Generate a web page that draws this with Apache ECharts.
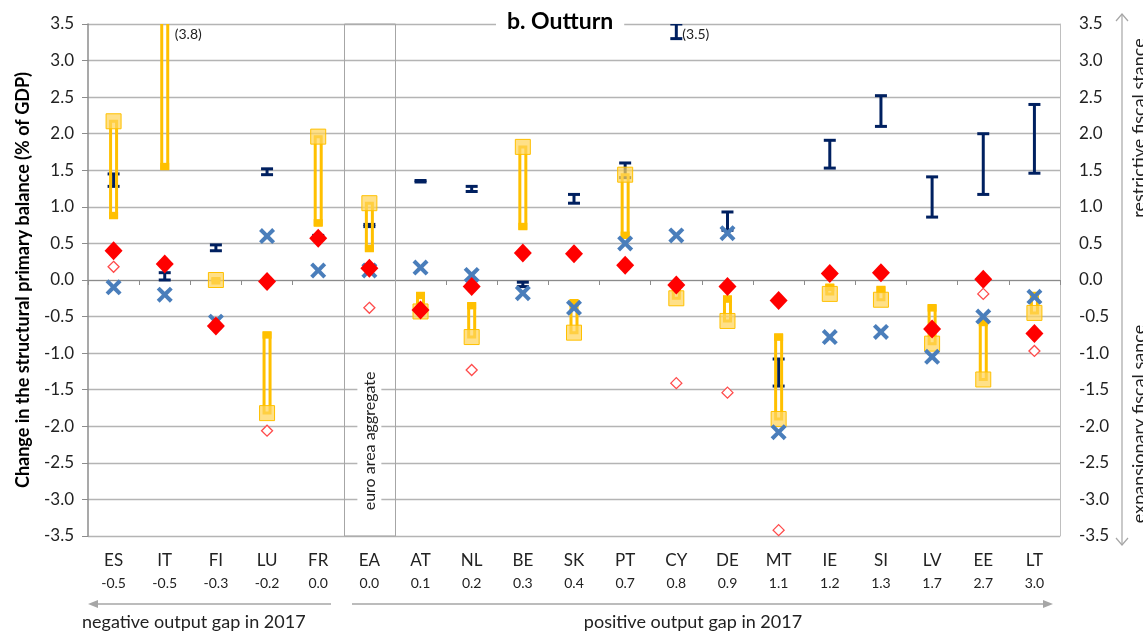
<!DOCTYPE html>
<html>
<head>
<meta charset="utf-8">
<script src="https://cdn.jsdelivr.net/npm/echarts@6/dist/echarts.min.js"></script>
<style>
html, body { margin: 0; padding: 0; background: #ffffff; }
#chart { width: 1143px; height: 633px; }
</style>
</head>
<body>
<div id="chart"></div>
<script>
// categories and output gaps (second label row)
var countries = ['ES', 'IT', 'FI', 'LU', 'FR', 'EA', 'AT', 'NL', 'BE', 'SK', 'PT', 'CY', 'DE', 'MT', 'IE', 'SI', 'LV', 'EE', 'LT'];
var outputGap = [-0.5, -0.5, -0.3, -0.2, 0.0, 0.0, 0.1, 0.2, 0.3, 0.4, 0.7, 0.8, 0.9, 1.1, 1.2, 1.3, 1.7, 2.7, 3.0];

// navy range bars
var navyLow  = [1.28, 0.0, 0.40, 1.44, 0.59, 0.73, 1.34, 1.21, -0.09, 1.05, 1.40, 3.30, 0.68, -1.45, 1.53, 2.10, 0.86, 1.17, 1.46];
var navyHigh = [1.45, 0.1, 0.48, 1.52, 0.61, 0.76, 1.36, 1.28, -0.03, 1.17, 1.60, 3.50, 0.93, -1.08, 1.91, 2.52, 1.41, 2.00, 2.40];

// yellow hollow bars: open end and square end
var yellowEnd    = [0.85, 1.52, 0.02, -0.72, 0.75, 0.40, -0.18, -0.32, 0.70, -0.28, 0.58, -0.10, -0.23, -0.75, -0.07, -0.10, -0.35, -0.55, -0.18];
var yellowSquare = [2.17, 3.80, 0.00, -1.82, 1.96, 1.05, -0.43, -0.78, 1.82, -0.72, 1.44, -0.25, -0.56, -1.90, -0.19, -0.27, -0.87, -1.36, -0.45];

// blue crosses
var blueCross = [-0.10, -0.20, -0.57, 0.60, 0.13, 0.13, 0.17, 0.07, -0.18, -0.38, 0.50, 0.61, 0.64, -2.08, -0.78, -0.71, -1.05, -0.50, -0.23];

// red filled diamonds
var redDiamond = [0.40, 0.22, -0.63, -0.02, 0.57, 0.16, -0.41, -0.09, 0.37, 0.36, 0.20, -0.07, -0.09, -0.28, 0.09, 0.10, -0.67, 0.01, -0.73];

// red open diamonds
var openDiamond = [0.18, null, null, -2.06, null, -0.38, null, -1.23, null, null, null, -1.41, -1.54, -3.42, null, null, null, -0.19, -0.97];

var yMin = -3.5, yMax = 3.5;
var FONT = 'Lato';

var chart = echarts.init(document.getElementById('chart'));

function navyItem(params, api) {
    var i = api.value(0);
    var lo = api.coord([i, api.value(1)]);
    var hi = api.coord([i, api.value(2)]);
    var c = '#002060';
    var kids = [
        { type: 'rect', shape: { x: lo[0] - 1.5, y: hi[1], width: 3, height: lo[1] - hi[1] }, style: { fill: c } },
        { type: 'rect', shape: { x: lo[0] - 6, y: hi[1] - 1.5, width: 12, height: 3 }, style: { fill: c } },
        { type: 'rect', shape: { x: lo[0] - 6, y: lo[1] - 1.5, width: 12, height: 3 }, style: { fill: c } }
    ];
    if (api.value(2) >= yMax) {
        kids.push({ type: 'text', x: lo[0] + 6, y: api.coord([i, yMax])[1] + 10,
            style: { text: '(' + api.value(2).toFixed(1) + ')', fontSize: 14, fontFamily: FONT, fill: '#222', verticalAlign: 'middle' } });
    }
    return { type: 'group', children: kids };
}

function yellowItem(params, api) {
    var i = api.value(0);
    var e = api.value(1), s = api.value(2);
    var pe = api.coord([i, e]);
    var ps = api.coord([i, s]);
    var top = Math.min(pe[1], ps[1]);
    var h = Math.abs(pe[1] - ps[1]);
    var c = '#FFC000';
    var capY = e >= s ? pe[1] - 1 : pe[1] - 6;
    var kids = [
        { type: 'rect', shape: { x: pe[0] - 3, y: top, width: 6, height: h }, style: { fill: null, stroke: c, lineWidth: 3 } },
        { type: 'rect', shape: { x: pe[0] - 4.5, y: capY, width: 9, height: 7 }, style: { fill: c } }
    ];
    if (s > yMax) {
        kids.push({ type: 'text', x: pe[0] + 10, y: api.coord([i, yMax])[1] + 10,
            style: { text: '(' + s.toFixed(1) + ')', fontSize: 14, fontFamily: FONT, fill: '#222', verticalAlign: 'middle' } });
    }
    return { type: 'group', children: kids };
}

var eaIndex = countries.indexOf('EA');
function eaItem(params, api) {
    var i = api.value(0);
    var cx = api.coord([i, 0])[0];
    var w = api.size([1, 0])[0];
    var t = api.coord([i, yMax])[1];
    var b = api.coord([i, yMin])[1];
    return { type: 'group', children: [
        { type: 'rect', shape: { x: Math.round(cx - w / 2) + 0.5, y: t, width: Math.round(w), height: b - t },
          style: { fill: null, stroke: '#a6a6a6', lineWidth: 1 } },
        { type: 'text', x: cx, y: api.coord([i, -2.2])[1], rotation: Math.PI / 2,
          style: { text: 'euro area aggregate', fontSize: 16, fontFamily: FONT, fill: '#222',
                   align: 'center', verticalAlign: 'middle', backgroundColor: '#ffffff', padding: [4, 6] } }
    ] };
}

var xPath = 'path://M2.5,0L7,4.5L11.5,0L14,2.5L9.5,7L14,11.5L11.5,14L7,9.5L2.5,14L0,11.5L4.5,7L0,2.5Z';
var grey = '#a6a6a6';

var option = {
    animation: false,
    textStyle: { fontFamily: FONT },
    title: {
        text: 'b. Outturn', left: 496, top: 8, padding: [2, 11], backgroundColor: '#ffffff',
        textStyle: { fontSize: 23, fontWeight: 'bold', color: '#000', fontFamily: FONT }
    },
    grid: { left: 88, right: 83, top: 24, bottom: 97 },
    xAxis: [
        {
            type: 'category', data: countries, position: 'bottom',
            axisLine: { onZero: true, lineStyle: { color: '#8c8c8c', width: 1 } },
            axisTick: { show: true, length: 5, lineStyle: { color: '#8c8c8c' } },
            axisLabel: { show: false }, splitLine: { show: false }
        },
        {
            type: 'category', data: countries, position: 'bottom',
            axisLine: { show: false, onZero: false }, axisTick: { show: false },
            axisLabel: {
                margin: 13, color: '#222',
                formatter: function (v, idx) { return '{a|' + v + '}\n{b|' + outputGap[idx].toFixed(1) + '}'; },
                rich: { a: { fontSize: 17, lineHeight: 23, fontFamily: FONT, color: '#222' },
                        b: { fontSize: 14, lineHeight: 23, fontFamily: FONT, color: '#222' } }
            }
        }
    ],
    yAxis: [
        {
            type: 'value', min: yMin, max: yMax, interval: 0.5, position: 'left',
            name: 'Change in the structural primary balance (% of GDP)', nameLocation: 'middle', nameGap: 56,
            nameTextStyle: { fontSize: 18, fontWeight: 'bold', color: '#000', fontFamily: FONT },
            axisLine: { show: true, lineStyle: { color: '#8c8c8c', width: 1.5 } },
            axisTick: { show: true, length: 6, lineStyle: { color: '#8c8c8c' } },
            axisLabel: { fontSize: 17, color: '#222', margin: 14, formatter: function (v) { return v.toFixed(1); } },
            splitLine: { lineStyle: { color: '#b4b4b4', width: 1.3 } }
        },
        {
            type: 'value', min: yMin, max: yMax, interval: 0.5, position: 'right',
            axisLine: { show: true, lineStyle: { color: '#bfbfbf', width: 1 } },
            axisTick: { show: false },
            axisLabel: { fontSize: 17, color: '#222', margin: 19, formatter: function (v) { return v.toFixed(1); } },
            splitLine: { show: false }
        }
    ],
    series: [
        { type: 'custom', name: 'ea', xAxisIndex: 0, yAxisIndex: 0, z: 1, renderItem: eaItem,
          data: [[eaIndex]] },
        { type: 'custom', name: 'navy', xAxisIndex: 0, yAxisIndex: 0, z: 2, clip: true, renderItem: navyItem,
          encode: { x: 0, y: [1, 2] },
          data: countries.map(function (c, i) { return [i, navyLow[i], navyHigh[i]]; }) },
        { type: 'custom', name: 'yellow', xAxisIndex: 0, yAxisIndex: 0, z: 3, clip: true, renderItem: yellowItem,
          encode: { x: 0, y: [1, 2] },
          data: countries.map(function (c, i) { return [i, yellowEnd[i], yellowSquare[i]]; }) },
        { type: 'scatter', name: 'square', xAxisIndex: 0, yAxisIndex: 0, z: 4, clip: true,
          symbol: 'rect', symbolSize: 15,
          itemStyle: { color: 'rgba(255,212,90,0.72)', borderColor: '#FFC000', borderWidth: 1, opacity: 1 },
          data: yellowSquare.map(function (v, i) { return [i, v]; }) },
        { type: 'scatter', name: 'cross', xAxisIndex: 0, yAxisIndex: 0, z: 6,
          symbol: xPath, symbolSize: 16, itemStyle: { color: '#4A7EBB', opacity: 1 },
          data: blueCross.map(function (v, i) { return [i, v]; }) },
        { type: 'scatter', name: 'diamond', xAxisIndex: 0, yAxisIndex: 0, z: 7,
          symbol: 'diamond', symbolSize: [18, 19], itemStyle: { color: '#FF0000', opacity: 1 },
          data: redDiamond.map(function (v, i) { return [i, v]; }) },
        { type: 'scatter', name: 'open', xAxisIndex: 0, yAxisIndex: 0, z: 8,
          symbol: 'diamond', symbolSize: 11,
          itemStyle: { color: '#ffffff', borderColor: '#FF4B4B', borderWidth: 1.3, opacity: 1 },
          data: openDiamond.map(function (v, i) { return v === null ? null : [i, v]; }).filter(function (d) { return d; }) }
    ],
    graphic: [
        { type: 'line', shape: { x1: 331, y1: 604, x2: 96, y2: 604 }, style: { stroke: grey, lineWidth: 1.5 } },
        { type: 'polygon', shape: { points: [[88, 604], [98, 600], [98, 608]] }, style: { fill: grey } },
        { type: 'line', shape: { x1: 352, y1: 604, x2: 1044, y2: 604 }, style: { stroke: grey, lineWidth: 1.5 } },
        { type: 'polygon', shape: { points: [[1053, 604], [1043, 600], [1043, 608]] }, style: { fill: grey } },
        { type: 'text', x: 82, y: 622, style: { text: 'negative output gap in 2017', fontSize: 18, fontFamily: FONT, fill: '#222', verticalAlign: 'middle' } },
        { type: 'text', x: 693, y: 622, style: { text: 'positive output gap in 2017', fontSize: 18, fontFamily: FONT, fill: '#222', align: 'center', verticalAlign: 'middle' } },
        { type: 'line', shape: { x1: 1122, y1: 545, x2: 1122, y2: 14 }, style: { stroke: grey, lineWidth: 1.2 } },
        { type: 'polyline', shape: { points: [[1116, 21], [1122, 14], [1128, 21]] }, style: { stroke: grey, lineWidth: 1.2, fill: null } },
        { type: 'polyline', shape: { points: [[1116, 538], [1122, 545], [1128, 538]] }, style: { stroke: grey, lineWidth: 1.2, fill: null } },
        { type: 'text', x: 1139, y: 128, rotation: Math.PI / 2, style: { text: 'restrictive fiscal stance', fontSize: 18, fontFamily: FONT, fill: '#222', align: 'center', verticalAlign: 'middle' } },
        { type: 'text', x: 1139, y: 424, rotation: Math.PI / 2, style: { text: 'expansionary fiscal sance', fontSize: 18, fontFamily: FONT, fill: '#222', align: 'center', verticalAlign: 'middle' } }
    ]
};

chart.setOption(option);
window.onresize = function () { chart.resize(); };
</script>
</body>
</html>
